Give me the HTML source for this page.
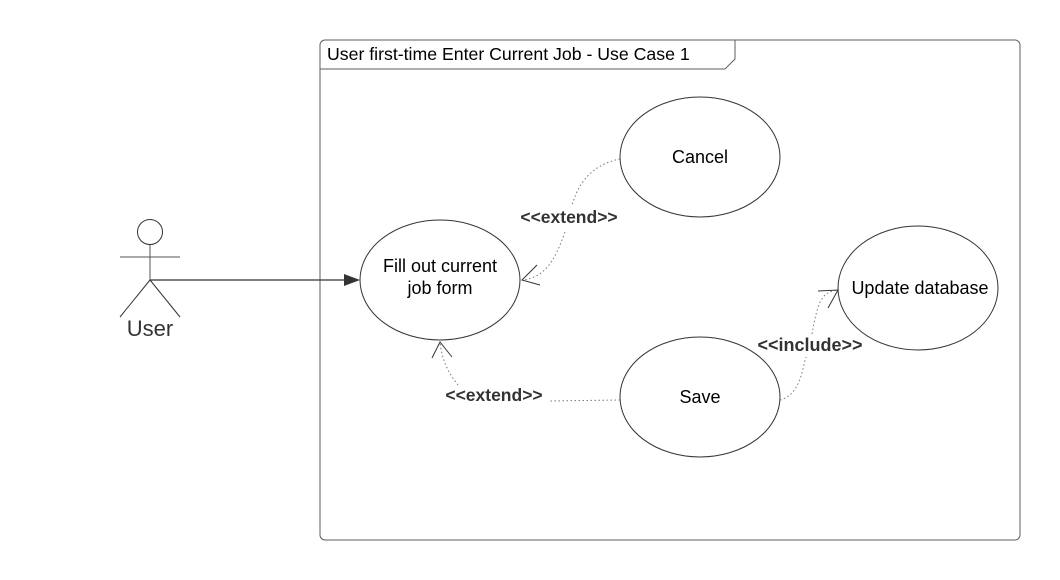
<!DOCTYPE html>
<html><head><meta charset="utf-8"><style>
html,body{margin:0;padding:0;background:#fff;}
svg{display:block;font-family:"Liberation Sans",Arial,sans-serif;}
</style></head><body>
<svg width="1060" height="580" viewBox="0 0 1060 580" xmlns="http://www.w3.org/2000/svg">
<rect x="320" y="40" width="700" height="500" rx="5" fill="#fff" stroke="#5e5e5e" stroke-width="1"/>
<path d="M320,69 L725,69 L735,59 L735,40" fill="none" stroke="#5e5e5e" stroke-width="1"/>
<text x="327" y="60" font-size="17.7" fill="#000">User first-time Enter Current Job - Use Case 1</text>

<!-- actor -->
<circle cx="150" cy="232" r="12.5" fill="#fff" stroke="#333" stroke-width="1"/>
<line x1="150" y1="245" x2="150" y2="280" stroke="#555" stroke-width="1"/>
<line x1="120" y1="257" x2="180" y2="257" stroke="#555" stroke-width="1"/>
<line x1="150" y1="280" x2="120" y2="317" stroke="#333" stroke-width="1"/>
<line x1="150" y1="280" x2="180" y2="317" stroke="#333" stroke-width="1"/>
<text x="150" y="336" font-size="22" text-anchor="middle" fill="#333">User</text>
<line x1="150" y1="280" x2="346" y2="280" stroke="#333" stroke-width="1.2"/>
<path d="M344,274 L360,280 L344,286 Z" fill="#333"/>

<!-- ellipses -->
<ellipse cx="440" cy="280" rx="80" ry="60" fill="#fff" stroke="#333"/>
<text x="440" y="272" font-size="18" text-anchor="middle">Fill out current</text>
<text x="440" y="294" font-size="18" text-anchor="middle">job form</text>
<ellipse cx="700" cy="157" rx="80" ry="60" fill="#fff" stroke="#333"/>
<text x="700" y="163" font-size="18" text-anchor="middle">Cancel</text>
<ellipse cx="700" cy="397" rx="80" ry="60" fill="#fff" stroke="#333"/>
<text x="700" y="403" font-size="18" text-anchor="middle">Save</text>
<ellipse cx="918" cy="288" rx="80" ry="62" fill="#fff" stroke="#333"/>
<text x="920" y="294" font-size="18" text-anchor="middle">Update database</text>

<!-- connectors -->
<g fill="none" stroke="#777" stroke-width="1" stroke-dasharray="1.5,2.5">
<path d="M620,159 C590,165 578,185 572,205"/>
<path d="M565,232 C555,260 545,278 522,280"/>
<path d="M620,400 L548,401"/>
<path d="M458,385 C450,375 442,362 440,342"/>
<path d="M780,400 C800,395 802,370 806,357"/>
<path d="M812,334 C818,300 822,292 838,290"/>
</g>
<path d="M537,265 L522,280 L540,285" fill="none" stroke="#333"/>
<path d="M432,358 L440,342 L452,357" fill="none" stroke="#333"/>
<path d="M818,291 L838,290 L828,308" fill="none" stroke="#333"/>
<text x="569" y="223" font-size="17.5" font-weight="bold" text-anchor="middle" fill="#333">&lt;&lt;extend&gt;&gt;</text>
<text x="494" y="401" font-size="17.5" font-weight="bold" text-anchor="middle" fill="#333">&lt;&lt;extend&gt;&gt;</text>
<text x="810" y="351" font-size="18" font-weight="bold" text-anchor="middle" fill="#333">&lt;&lt;include&gt;&gt;</text>
</svg>
</body></html>
